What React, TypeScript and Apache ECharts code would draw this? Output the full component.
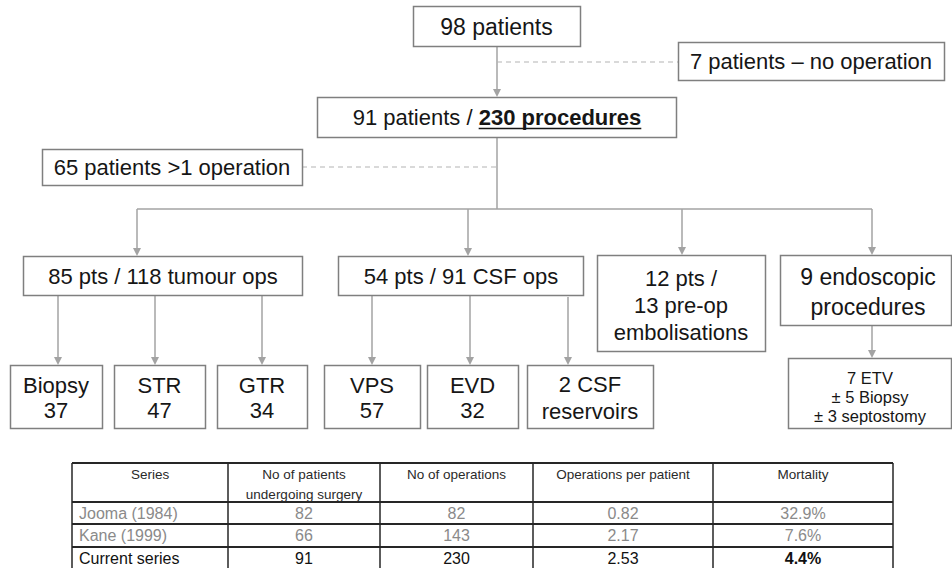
import React, { useEffect, useRef } from "react";
import * as echarts from "echarts";

// ---- Flowchart data ----
const totalPatients = 98;
const noOperationPatients = 7;
const operatedPatients = 91;
const totalProcedures = 230;
const multiOperationPatients = 65;
const branchPatients = [85, 54, 12, 9];
const branchOps = [118, 91, 13];
const tumourCategories = ["Biopsy", "STR", "GTR"];
const tumourCounts = [37, 47, 34];
const csfCategories = ["VPS", "EVD"];
const csfCounts = [57, 32];
const csfReservoirs = 2;
const endoscopicBreakdown = [7, 5, 3]; // ETV, biopsy, septostomy

// ---- Table data ----
const tableHeaders = [
  "Series",
  "No of patients\nundergoing surgery",
  "No of operations",
  "Operations per patient",
  "Mortality",
];
const tableSeries = ["Jooma (1984)", "Kane (1999)", "Current series"];
const tablePatients = [82, 66, 91];
const tableOperations = [82, 143, 230];
const tableOpsPerPatient = [0.82, 2.17, 2.53];
const tableMortality = [32.9, 7.6, 4.4];

const FONT = '"Liberation Sans", Arial, Helvetica, sans-serif';
const BOX = "#7f7f7f";
const LINE = "#a3a3a3";
const TXT = "#161616";

function rect(x: number, y: number, w: number, h: number) {
  return {
    type: "rect",
    silent: true,
    shape: { x: x + 0.5, y: y + 0.5, width: w, height: h },
    style: { fill: "#fff", stroke: BOX, lineWidth: 1.5 },
  };
}

function text(
  x: number,
  y: number,
  t: string,
  size: number,
  opts: any = {}
) {
  return {
    type: "text",
    silent: true,
    x,
    y,
    style: {
      text: t,
      fill: opts.fill || TXT,
      fontSize: size,
      fontFamily: FONT,
      fontWeight: opts.weight || "normal",
      textAlign: opts.align || "center",
      textVerticalAlign: opts.va || "middle",
      lineHeight: opts.lh || Math.round(size * 1.2),
    },
  };
}

function vline(x: number, y1: number, y2: number, stroke = LINE, lw = 1.5, dash?: number[]) {
  return {
    type: "line",
    silent: true,
    shape: { x1: x, y1, x2: x, y2 },
    style: { stroke, lineWidth: lw, lineDash: dash },
  };
}
function hline(y: number, x1: number, x2: number, stroke = LINE, lw = 1.5, dash?: number[]) {
  return {
    type: "line",
    silent: true,
    shape: { x1, y1: y, x2, y2: y },
    style: { stroke, lineWidth: lw, lineDash: dash },
  };
}
function arrow(x: number, y1: number, y2: number) {
  return [
    vline(x, y1, y2 - 6),
    {
      type: "polygon",
      silent: true,
      shape: { points: [[x - 4, y2 - 8], [x + 4, y2 - 8], [x, y2]] },
      style: { fill: LINE },
    },
  ];
}

function measure(t: string, size: number, weight: string) {
  const c = document.createElement("canvas").getContext("2d");
  if (!c) return t.length * size * 0.55;
  c.font = `${weight} ${size}px "Liberation Sans"`;
  return c.measureText(t).width;
}

function buildElements() {
  const els: any[] = [];
  const cx = 497;

  // connectors (drawn first)
  els.push(...arrow(cx, 46, 97));
  els.push(hline(62, cx, 678, "#b4b4b4", 1.2, [5, 4]));
  els.push(vline(cx, 137, 209));
  els.push(hline(167, 302, cx, "#b4b4b4", 1.2, [5, 4]));
  els.push(hline(209, 137, 872));
  els.push(...arrow(137, 209, 256));
  els.push(...arrow(468, 209, 256));
  els.push(...arrow(682, 209, 255));
  els.push(...arrow(872, 209, 255));
  [58, 155, 262].forEach((x) => els.push(...arrow(x, 295, 365)));
  [372, 470].forEach((x) => els.push(...arrow(x, 295, 365)));
  els.push(...arrow(568, 297, 365));
  els.push(...arrow(872, 325, 358));

  // top box
  els.push(rect(413, 6, 167, 40));
  els.push(text(496.5, 27, `${totalPatients} patients`, 23));

  els.push(rect(678, 42, 266, 38));
  els.push(text(811, 61.5, `${noOperationPatients} patients \u2013 no operation`, 22));

  els.push(rect(317, 97, 359, 40));
  const p1 = `${operatedPatients} patients / `;
  const p2 = `${totalProcedures} procedures`;
  const w1 = measure(p1, 22, "normal");
  const w2 = measure(p2, 22, "bold");
  const start = cx - (w1 + w2) / 2;
  els.push(text(start, 117.5, p1, 22, { align: "left" }));
  els.push(text(start + w1, 117.5, p2, 22, { align: "left", weight: "bold" }));
  els.push(hline(128.5, start + w1, start + w1 + w2, TXT, 1.6));

  els.push(rect(42, 149, 260, 36));
  els.push(text(172, 167.5, `${multiOperationPatients} patients >1 operation`, 22));

  // branch boxes
  els.push(rect(23, 256, 279, 39));
  els.push(text(163, 276, `${branchPatients[0]} pts / ${branchOps[0]} tumour ops`, 22));
  els.push(rect(338, 256, 245, 39));
  els.push(text(461, 276, `${branchPatients[1]} pts / ${branchOps[1]} CSF ops`, 22));
  els.push(rect(597, 255, 168, 96));
  els.push(text(681, 305, `${branchPatients[2]} pts /\n${branchOps[2]} pre-op\nembolisations`, 22, { lh: 27 }));
  els.push(rect(780, 255, 171, 70));
  els.push(text(868, 292, `${branchPatients[3]} endoscopic\nprocedures`, 23, { lh: 30 }));

  // leaf boxes
  const leafY = 365, leafH = 63;
  const tumourBoxes = [[10, 92], [114, 91], [217, 90]];
  tumourCategories.forEach((c, i) => {
    const [x, w] = tumourBoxes[i];
    els.push(rect(x, leafY, w, leafH));
    els.push(text(x + w / 2, 397.5, `${c}\n${tumourCounts[i]}`, 22, { lh: 25 }));
  });
  const csfBoxes = [[324, 96], [427, 91]];
  csfCategories.forEach((c, i) => {
    const [x, w] = csfBoxes[i];
    els.push(rect(x, leafY, w, leafH));
    els.push(text(x + w / 2, 397.5, `${c}\n${csfCounts[i]}`, 22, { lh: 25 }));
  });
  els.push(rect(527, leafY, 126, leafH));
  els.push(text(590, 397.5, `${csfReservoirs} CSF\nreservoirs`, 22, { lh: 27 }));

  els.push(rect(788, 358, 163, 70));
  els.push(
    text(
      870,
      397,
      `${endoscopicBreakdown[0]} ETV\n\u00b1 ${endoscopicBreakdown[1]} Biopsy\n\u00b1 ${endoscopicBreakdown[2]} septostomy`,
      16.5,
      { lh: 19 }
    )
  );

  // table
  const colX = [72, 228, 380, 533, 713, 893];
  const rowY = [463, 502, 524, 547, 575];
  const TB = "#262626";
  rowY.forEach((y) => els.push(hline(y, colX[0], colX[5], TB, 1.8)));
  colX.forEach((x) => els.push(vline(x, rowY[0], rowY[4], TB, 1.5)));
  tableHeaders.forEach((h, i) => {
    els.push(
      text((colX[i] + colX[i + 1]) / 2, 464, h, 13.5, { va: "top", lh: 20, fill: "#2a2a2a" })
    );
  });
  const rowMid = [513, 535.5, 558];
  tableSeries.forEach((s, r) => {
    const fill = r < 2 ? "#8a8a8a" : "#111";
    const y = rowMid[r];
    els.push(text(colX[0] + 7, y, s, 16, { align: "left", fill }));
    els.push(text((colX[1] + colX[2]) / 2, y, String(tablePatients[r]), 16, { fill }));
    els.push(text((colX[2] + colX[3]) / 2, y, String(tableOperations[r]), 16, { fill }));
    els.push(text((colX[3] + colX[4]) / 2, y, tableOpsPerPatient[r].toFixed(2), 16, { fill }));
    els.push(
      text((colX[4] + colX[5]) / 2, y, `${tableMortality[r].toFixed(1)}%`, 16, {
        fill,
        weight: r === 2 ? "bold" : "normal",
      })
    );
  });

  return els;
}

export default function App() {
  const ref = useRef<HTMLDivElement>(null);
  useEffect(() => {
    document.body.style.margin = "0";
    if (!ref.current) return;
    const chart = echarts.init(ref.current, undefined, { renderer: "svg" });
    chart.setOption({
      animation: false,
      backgroundColor: "#ffffff",
      graphic: { elements: buildElements() },
    });
    return () => chart.dispose();
  }, []);
  return <div ref={ref} style={{ width: 952, height: 568 }} />;
}
